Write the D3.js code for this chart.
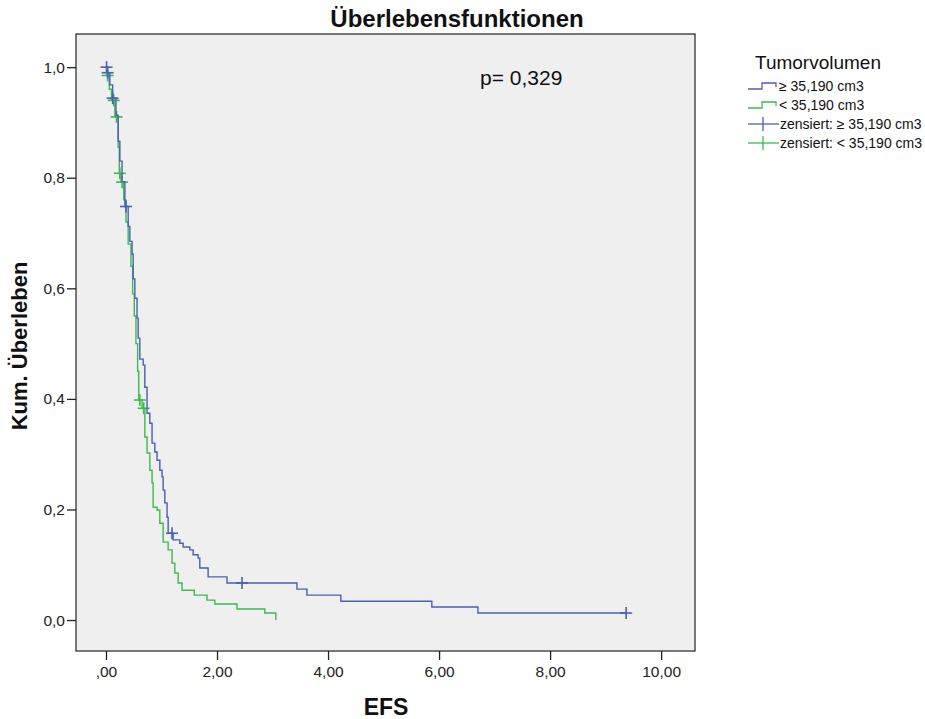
<!DOCTYPE html>
<html>
<head>
<meta charset="utf-8">
<script src="https://cdn.jsdelivr.net/npm/d3@7"></script>
<style>
  body { margin: 0; background: #fff; }
  svg { font-family: "Liberation Sans", Arial, sans-serif; }
</style>
</head>
<body>
<svg id="km" width="925" height="719"></svg>
<script>
// event times and survival after each step
const bigTimes = [0, 0.02, 0.07, 0.12, 0.18, 0.22, 0.25, 0.29, 0.34, 0.40, 0.43, 0.47, 0.49, 0.52, 0.56, 0.58,
  0.61, 0.67, 0.70, 0.74, 0.79, 0.83, 0.88, 0.92, 0.97, 1.01, 1.03, 1.06, 1.10, 1.12, 1.21, 1.33, 1.39,
  1.51, 1.57, 1.66, 1.69, 1.84, 2.18, 3.44, 3.62, 4.23, 5.87, 6.70];
const bigSurv = [1.0, 0.990, 0.968, 0.944, 0.913, 0.866, 0.830, 0.793, 0.748, 0.712, 0.685, 0.662, 0.617, 0.582, 0.546, 0.510,
  0.472, 0.461, 0.421, 0.374, 0.356, 0.320, 0.304, 0.289, 0.271, 0.259, 0.235, 0.212, 0.186, 0.157, 0.145, 0.139, 0.132,
  0.127, 0.118, 0.112, 0.094, 0.078, 0.067, 0.056, 0.045, 0.034, 0.0235, 0.0127];
const bigEnd = 9.37;
const bigCensored = [0.01, 0.03, 0.12, 0.36, 1.19, 2.45, 9.37];

const smallTimes = [0, 0.02, 0.06, 0.10, 0.16, 0.22, 0.24, 0.27, 0.32, 0.36, 0.40, 0.45, 0.48, 0.51, 0.54, 0.57, 0.59,
  0.65, 0.70, 0.74, 0.79, 0.83, 0.85, 0.92, 0.97, 1.03, 1.12, 1.19, 1.24, 1.30, 1.37, 1.59, 1.82, 1.96, 2.36, 2.86, 3.06];
const smallSurv = [1.0, 0.985, 0.960, 0.940, 0.910, 0.855, 0.808, 0.792, 0.760, 0.720, 0.680, 0.640, 0.590, 0.550, 0.500, 0.450, 0.398,
  0.383, 0.331, 0.302, 0.271, 0.248, 0.204, 0.199, 0.175, 0.141, 0.127, 0.103, 0.085, 0.067, 0.054, 0.045, 0.036, 0.029, 0.020, 0.0127, 0.0];
const smallEnd = 3.06;
const smallCensored = [0.03, 0.14, 0.19, 0.25, 0.29, 0.61, 0.68];

const xTicks = [0, 2, 4, 6, 8, 10];
const yTicks = [0, 0.2, 0.4, 0.6, 0.8, 1.0];
const legendLabels = ["\u2265 35,190 cm3", "< 35,190 cm3", "zensiert: \u2265 35,190 cm3", "zensiert: < 35,190 cm3"];

const blue = "#4a5fb6";
const green = "#3dbb4c";

const svg = d3.select("#km");
const frame = { left: 76, right: 695, top: 34, bottom: 651 };

const x = d3.scaleLinear().domain([-0.54, 10.61]).range([frame.left, frame.right]);
const y = d3.scaleLinear().domain([-0.056, 1.06]).range([frame.bottom, frame.top]);

//plot background + border
svg.append("rect")
  .attr("x", frame.left).attr("y", frame.top)
  .attr("width", frame.right - frame.left).attr("height", frame.bottom - frame.top)
  .attr("fill", "#efefef").attr("stroke", "#222").attr("stroke-width", 1.2);

const fmtY = d => d3.format(".1f")(d).replace(".", ",");
const fmtX = d => d === 0 ? ",00" : d3.format(".2f")(d).replace(".", ",");

//y axis
const gy = svg.append("g")
  .attr("transform", `translate(${frame.left},0)`)
  .call(d3.axisLeft(y).tickValues(yTicks).tickFormat(fmtY).tickSize(9).tickPadding(2));
gy.select(".domain").remove();
gy.selectAll("line").attr("stroke", "#222").attr("stroke-width", 1.3);
gy.selectAll("text").attr("font-size", 15.5).attr("fill", "#222")
  .attr("font-family", "Liberation Sans, Arial, sans-serif");

//x axis
const gx = svg.append("g")
  .attr("transform", `translate(0,${frame.bottom})`)
  .call(d3.axisBottom(x).tickValues(xTicks).tickFormat(fmtX).tickSize(9).tickPadding(6));
gx.select(".domain").remove();
gx.selectAll("line").attr("stroke", "#222").attr("stroke-width", 1.3);
gx.selectAll("text").attr("font-size", 15.5).attr("fill", "#222")
  .attr("font-family", "Liberation Sans, Arial, sans-serif");

//survival curves
const line = d3.line().x(d => x(d[0])).y(d => y(d[1])).curve(d3.curveStepAfter);

function stepPoints(times, surv, end) {
  const pts = times.map((t, i) => [t, surv[i]]);
  if (end > times[times.length - 1]) pts.push([end, surv[surv.length - 1]]);
  return pts;
}
function survAt(times, surv, t) {
  let s = surv[0];
  times.forEach((tt, i) => { if (tt <= t) s = surv[i]; });
  return s;
}

const groups = [
  { times: smallTimes, surv: smallSurv, end: smallEnd, cens: smallCensored, color: green },
  { times: bigTimes, surv: bigSurv, end: bigEnd, cens: bigCensored, color: blue }
];

groups.forEach(g => {
  svg.append("path")
    .attr("d", line(stepPoints(g.times, g.surv, g.end)))
    .attr("fill", "none").attr("stroke", g.color).attr("stroke-width", 1.4);
  const marks = svg.append("g").attr("stroke", g.color).attr("stroke-width", 1.6);
  g.cens.forEach(t => {
    const cx = x(t), cy = y(survAt(g.times, g.surv, t));
    marks.append("line").attr("x1", cx - 6).attr("x2", cx + 6).attr("y1", cy).attr("y2", cy);
    marks.append("line").attr("x1", cx).attr("x2", cx).attr("y1", cy - 6).attr("y2", cy + 6);
  });
});

//title and axis labels
svg.append("text").attr("x", 457).attr("y", 27).attr("text-anchor", "middle")
  .attr("font-size", 24).attr("font-weight", "bold").attr("fill", "#111").text("Überlebensfunktionen");
svg.append("text").attr("x", 386).attr("y", 715).attr("text-anchor", "middle")
  .attr("font-size", 23).attr("font-weight", "bold").attr("fill", "#111").text("EFS");
svg.append("text").attr("transform", "translate(27,346) rotate(-90)").attr("text-anchor", "middle")
  .attr("font-size", 22).attr("font-weight", "bold").attr("fill", "#111").text("Kum. Überleben");

svg.append("text").attr("x", 480).attr("y", 85)
  .attr("font-size", 21).attr("fill", "#111").text("p= 0,329");

//legend
const lg = svg.append("g").attr("transform", "translate(748,0)");
lg.append("text").attr("x", 7).attr("y", 69).attr("font-size", 19).attr("fill", "#111").text("Tumorvolumen");
const legendColors = [blue, green, blue, green];
const legendY = [86, 105, 124, 143];
legendLabels.forEach((lab, i) => {
  const yy = legendY[i];
  if (i < 2) {
    lg.append("path").attr("d", `M0,${yy + 3} H14 V${yy - 3} H28 V${yy + 1}`)
      .attr("fill", "none").attr("stroke", legendColors[i]).attr("stroke-width", 1.3);
  } else {
    lg.append("line").attr("x1", 0).attr("x2", 31).attr("y1", yy).attr("y2", yy)
      .attr("stroke", legendColors[i]).attr("stroke-width", 1.3);
    lg.append("line").attr("x1", 15).attr("x2", 15).attr("y1", yy - 7).attr("y2", yy + 7)
      .attr("stroke", legendColors[i]).attr("stroke-width", 1.3);
  }
  lg.append("text").attr("x", i < 2 ? 31 : 32).attr("y", yy + 5)
    .attr("font-size", 14).attr("fill", "#111").text(lab);
});
</script>
</body>
</html>
